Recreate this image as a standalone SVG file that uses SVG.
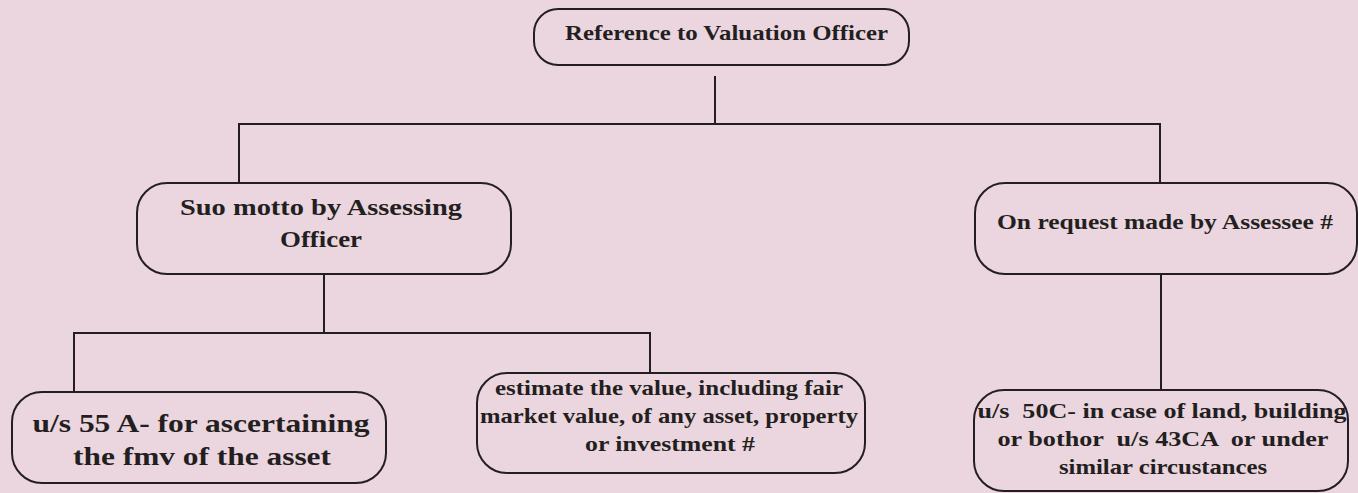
<svg xmlns="http://www.w3.org/2000/svg" width="1358" height="493" viewBox="0 0 1358 493">
<style>
.box{fill:none;stroke:#231f20;stroke-width:2}
.ln{fill:none;stroke:#231f20;stroke-width:2}
text{font-family:"Liberation Serif","DejaVu Serif",serif;font-weight:bold;fill:#231f20;text-anchor:middle;white-space:pre}
</style>
<rect width="1358" height="493" fill="#ebd5df"/>
<g id="connectors">
<path class="ln" d="M715 76V124M239 183V124H1160V183"/>
<path class="ln" d="M324 274V333M74 392V333H650V373"/>
<path class="ln" d="M1161 274V390"/>
</g>
<g id="n-top">
<rect class="box" x="534" y="9" width="375" height="56" rx="24"/>
<text x="726.5" y="40" font-size="21" textLength="323" lengthAdjust="spacingAndGlyphs">Reference to Valuation Officer</text>
</g>
<g id="n-suo">
<rect class="box" x="137" y="183" width="374" height="91" rx="30"/>
<text x="321" y="215" font-size="23" textLength="282" lengthAdjust="spacingAndGlyphs">Suo motto by Assessing</text>
<text x="321" y="247" font-size="23" textLength="82" lengthAdjust="spacingAndGlyphs">Officer</text>
</g>
<g id="n-request">
<rect class="box" x="975" y="183" width="382" height="91" rx="30"/>
<text x="1165" y="229" font-size="21" textLength="336" lengthAdjust="spacingAndGlyphs">On request made by Assessee #</text>
</g>
<g id="n-55a">
<rect class="box" x="12" y="392" width="374" height="91" rx="30"/>
<text x="201" y="432" font-size="26" textLength="337" lengthAdjust="spacingAndGlyphs">u/s 55 A- for ascertaining</text>
<text x="202" y="465" font-size="26" textLength="258" lengthAdjust="spacingAndGlyphs">the fmv of the asset</text>
</g>
<g id="n-estimate">
<rect class="box" x="477" y="373" width="388" height="100" rx="30"/>
<text x="669" y="395" font-size="21" textLength="348" lengthAdjust="spacingAndGlyphs">estimate the value, including fair</text>
<text x="669" y="423" font-size="21" textLength="378" lengthAdjust="spacingAndGlyphs">market value, of any asset, property</text>
<text x="670" y="451" font-size="21" textLength="170" lengthAdjust="spacingAndGlyphs">or investment #</text>
</g>
<g id="n-50c">
<rect class="box" x="974" y="390" width="374" height="101" rx="30"/>
<text x="1162" y="418" font-size="22" textLength="369" lengthAdjust="spacingAndGlyphs">u/s  50C- in case of land, building</text>
<text x="1163" y="446" font-size="22" textLength="331" lengthAdjust="spacingAndGlyphs">or bothor  u/s 43CA  or under</text>
<text x="1163" y="474" font-size="22" textLength="208" lengthAdjust="spacingAndGlyphs">similar circustances</text>
</g>
</svg>
